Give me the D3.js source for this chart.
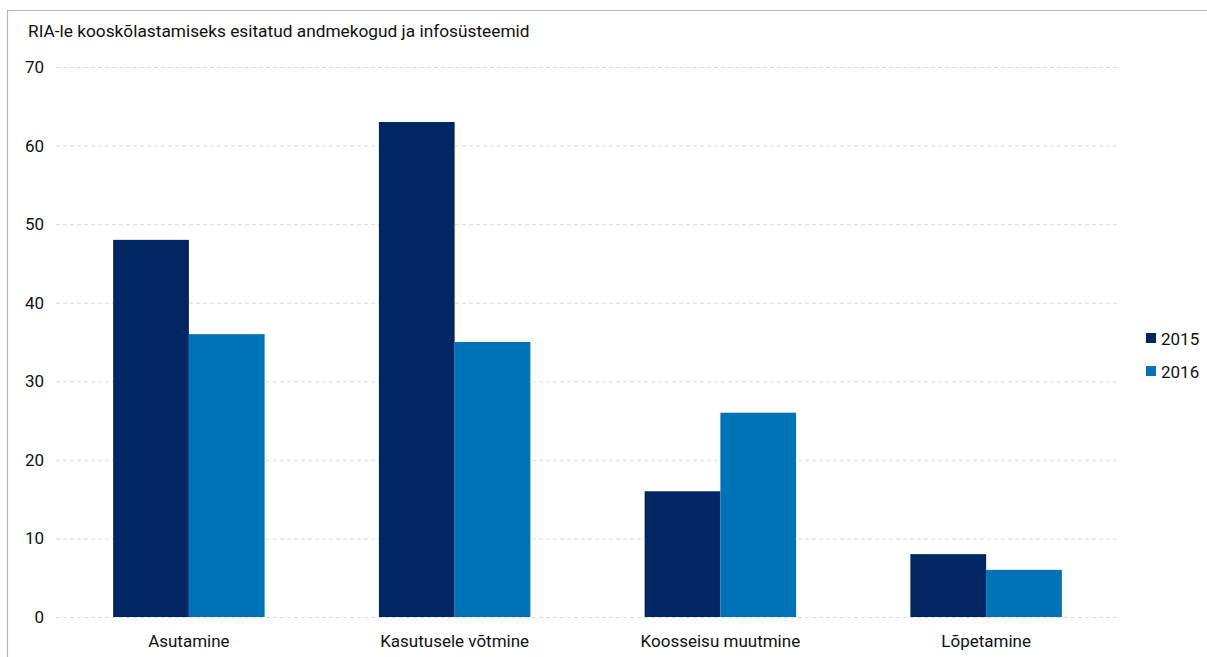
<!DOCTYPE html>
<html>
<head>
<meta charset="utf-8">
<script src="https://cdn.jsdelivr.net/npm/d3@7"></script>
<style>
  body { margin: 0; background: #fff; }
  svg { font-family: Roboto, "Noto Sans", sans-serif; }
</style>
</head>
<body>
<svg id="chart" width="1207" height="657"></svg>
<script>
// data
const title = 'RIA-le kooskõlastamiseks esitatud andmekogud ja infosüsteemid';
const categories = ['Asutamine', 'Kasutusele võtmine', 'Koosseisu muutmine', 'Lõpetamine'];
const years = ['2015', '2016'];
const values2015 = [48, 63, 16, 8];
const values2016 = [36, 35, 26, 6];
const yTicks = [0, 10, 20, 30, 40, 50, 60, 70];
const colors = ['#002664', '#0072b7'];

const svg = d3.select('#chart');

// frame lines (top + left only)
svg.append('line')
    .attr('x1', 7).attr('y1', 10.5).attr('x2', 1207).attr('y2', 10.5)
    .style('stroke', '#b5b5b5').style('stroke-width', 1.2);
svg.append('line')
    .attr('x1', 7.5).attr('y1', 10).attr('x2', 7.5).attr('y2', 657)
    .style('stroke', '#b5b5b5').style('stroke-width', 1.2);

svg.append('text')
    .attr('x', 28).attr('y', 37)
    .style('font-size', '17.3px')
    .style('fill', '#111')
    .text(title);

const m = { left: 56, right: 1119, top: 67, bottom: 617 };

const x = d3.scaleBand().domain(categories).range([m.left, m.right]).paddingInner(0.43).paddingOuter(0.215);
const xs = d3.scaleBand().domain(years).range([0, x.bandwidth()]);
const y = d3.scaleLinear().domain([0, 70]).range([m.bottom, m.top]);

// gridlines
svg.append('g').selectAll('line').data(yTicks).join('line')
    .attr('x1', m.left).attr('x2', m.right)
    .attr('y1', d => y(d) + 0.5).attr('y2', d => y(d) + 0.5)
    .style('stroke', '#dcdcdc').style('stroke-width', 1)
    .style('stroke-dasharray', '4,3');

// y axis labels
svg.append('g').selectAll('text').data(yTicks).join('text')
    .attr('x', 44).attr('y', d => y(d) + 6)
    .attr('text-anchor', 'end')
    .style('font-size', '17px').style('fill', '#111')
    .text(d => d);

// bars
const series = [values2015, values2016];
const groups = svg.append('g').selectAll('g').data(categories).join('g')
    .attr('transform', d => `translate(${x(d)},0)`);

groups.selectAll('rect')
    .data((d, i) => years.map((yr, j) => ({ yr: yr, v: series[j][i], c: colors[j] })))
    .join('rect')
    .attr('x', d => xs(d.yr))
    .attr('width', xs.bandwidth())
    .attr('y', d => y(d.v))
    .attr('height', d => y(0) - y(d.v))
    .style('fill', d => d.c);

// x labels
svg.append('g').selectAll('text').data(categories).join('text')
    .attr('x', d => x(d) + x.bandwidth() / 2)
    .attr('y', 647)
    .attr('text-anchor', 'middle')
    .style('font-size', '17px').style('fill', '#111')
    .text(d => d);

// legend
const legend = svg.append('g').selectAll('g').data(years).join('g')
    .attr('transform', (d, i) => `translate(1146,${333 + i * 33})`);
legend.append('rect')
    .attr('width', 10).attr('height', 10)
    .style('fill', (d, i) => colors[i]);
legend.append('text')
    .attr('x', 15).attr('y', 11.5)
    .style('font-size', '17px').style('fill', '#111')
    .text(d => d);
</script>
</body>
</html>
